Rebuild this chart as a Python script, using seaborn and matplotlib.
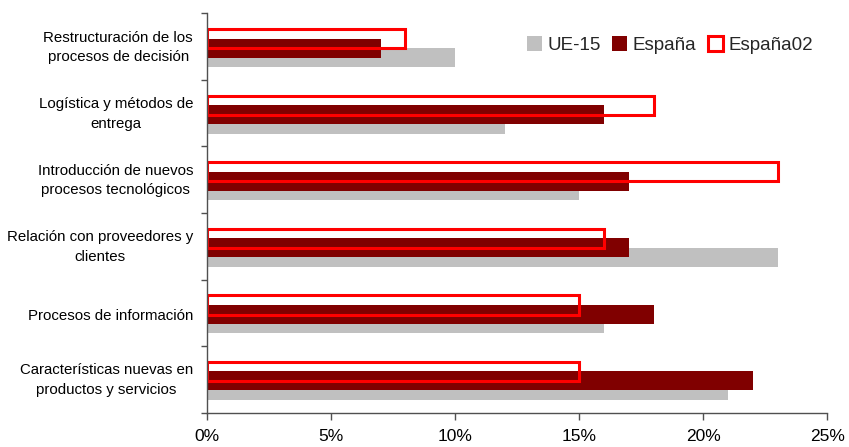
import numpy as np
import matplotlib
matplotlib.use("Agg")
import matplotlib.pyplot as plt
import matplotlib.transforms as mtransforms
import seaborn as sns

# Categories (top to bottom) and values in percent
categories = [
    "Restructuración de los\nprocesos de decisión",
    "Logística y métodos de\nentrega",
    "Introducción de nuevos\nprocesos tecnológicos",
    "Relación con proveedores y\nclientes",
    "Procesos de información",
    "Características nuevas en\nproductos y servicios",
]
ue15 = [10, 12, 15, 23, 16, 21]
espana = [7, 16, 17, 17, 18, 22]
espana02 = [8, 18, 23, 16, 15, 15]
xticks = [0, 5, 10, 15, 20, 25]
xtick_labels = ["0%", "5%", "10%", "15%", "20%", "25%"]

sns.set_style("white")
plt.rcParams["font.family"] = ["Liberation Sans", "DejaVu Sans"]

fig = plt.figure(figsize=(8.49, 4.47), dpi=100)
ax = fig.add_axes([207 / 849, 1 - 412.7 / 447, (827.3 - 207) / 849, (412.7 - 13.3) / 447])

idx = np.arange(len(categories))
bar_h = 0.286
axis_col = "#505050"

# Overlapping horizontal bars: grey below, dark red in the middle, red outline on top
sns.barplot(x=ue15, y=idx + 0.165, orient="h", native_scale=True, width=bar_h,
            color="#C0C0C0", linewidth=0, saturation=1, errorbar=None,
            label="UE-15", ax=ax)
sns.barplot(x=espana, y=idx + 0.022, orient="h", native_scale=True, width=bar_h,
            color="#800000", linewidth=0, saturation=1, errorbar=None,
            label="España", ax=ax)
sns.barplot(x=espana02, y=idx - 0.118, orient="h", native_scale=True, width=bar_h,
            color="#FF0000", fill=False, linewidth=2.2, saturation=1, errorbar=None,
            label="España02", ax=ax)

ax.set_xlim(0, 25)
ax.set_ylim(len(categories) - 0.5, -0.5)
ax.set_xlabel("")
ax.set_ylabel("")

# X axis ticks and labels
ax.set_xticks(xticks)
ax.set_xticklabels(xtick_labels, fontsize=12.5)
ax.tick_params(axis="x", direction="out", length=5, width=1, color=axis_col, pad=7,
               labelcolor="black", bottom=True)

# Y axis: tick marks between categories, labels centred on each category
ax.set_yticks(np.arange(-0.5, len(categories), 1.0))
ax.set_yticklabels([])
ax.set_yticks(idx, labels=categories, minor=True)
ax.tick_params(axis="y", which="major", direction="out", length=4, width=1,
               color=axis_col, left=True)
ax.tick_params(axis="y", which="minor", length=0, pad=10, labelsize=10.8,
               labelcolor="black")
for lab in ax.get_yticklabels(minor=True):
    lab.set_multialignment("center")
    lab.set_linespacing(1.5)
    shift = 2.5 if "\n" in lab.get_text() else -1.0
    lab.set_transform(lab.get_transform() +
                      mtransforms.ScaledTranslation(0, shift / 72, fig.dpi_scale_trans))

for side in ["top", "right"]:
    ax.spines[side].set_visible(False)
for side in ["left", "bottom"]:
    ax.spines[side].set_color(axis_col)
    ax.spines[side].set_linewidth(1)

handles, labels = ax.get_legend_handles_labels()
ax.legend(handles, labels, ncol=3, frameon=False, fontsize=13.5,
          loc="center", bbox_to_anchor=(670 / 849, 1 - 45 / 447),
          bbox_transform=fig.transFigure, handlelength=0.8, handleheight=0.8,
          handletextpad=0.3, columnspacing=0.6, borderpad=0)

fig.savefig("out.png", dpi=100)
